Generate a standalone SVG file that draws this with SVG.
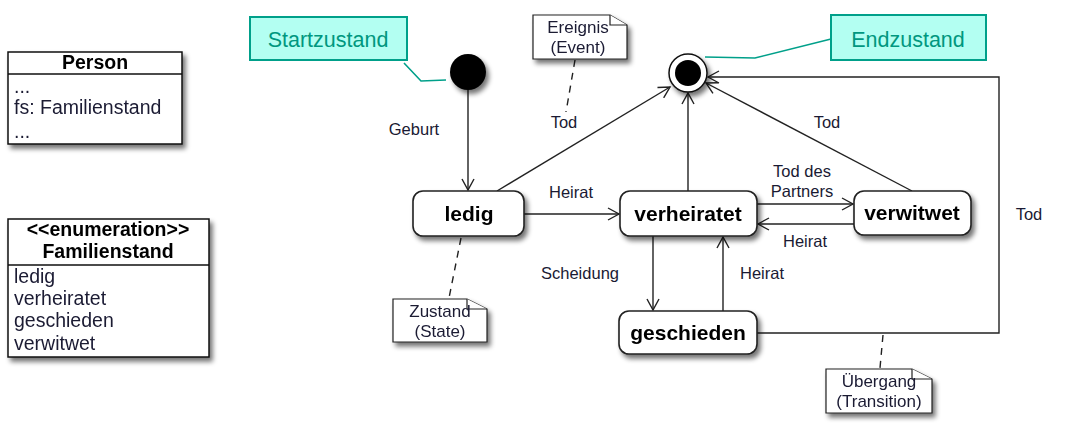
<svg xmlns="http://www.w3.org/2000/svg" width="1085" height="426" viewBox="0 0 1085 426">
<style>
text{font-family:"Liberation Sans",Arial,sans-serif;fill:#1a1a33}
.cls{fill:#fff;stroke:#111;stroke-width:1.5}
.st{fill:#fff;stroke:#222;stroke-width:1.6}
.sl{font-size:21px;font-weight:bold;text-anchor:middle;fill:#000}
.el{font-size:16.5px;text-anchor:middle}
.ct{font-size:19.5px}
.note{fill:#fff;stroke:#222;stroke-width:1.2}
.nt{font-size:17px;text-anchor:middle}
.tl{fill:#b3fff2;stroke:#00a08a;stroke-width:2}
.tt{font-size:21.5px;text-anchor:middle;fill:#00977f}
.e{fill:none;stroke:#222;stroke-width:1.4}
.d{fill:none;stroke:#222;stroke-width:1.4;stroke-dasharray:7,6}
.tc{fill:none;stroke:#00a08a;stroke-width:1.6}
</style>
<defs>
<filter id="sh" x="-20%" y="-20%" width="150%" height="160%">
<feGaussianBlur in="SourceAlpha" stdDeviation="2.5"/>
<feOffset dx="3" dy="4" result="b"/>
<feComponentTransfer><feFuncA type="linear" slope="0.55"/></feComponentTransfer>
<feMerge><feMergeNode/><feMergeNode in="SourceGraphic"/></feMerge>
</filter>
<marker id="a" markerWidth="14" markerHeight="14" refX="12" refY="7" orient="auto" markerUnits="userSpaceOnUse">
<path d="M1,1 L12,7 L1,13" fill="none" stroke="#222" stroke-width="1.4"/>
</marker>
</defs>
<rect width="1085" height="426" fill="#fff"/>

<g id="person" filter="url(#sh)">
<rect class="cls" x="8" y="52" width="174" height="92"/>
<line x1="8" y1="74" x2="182" y2="74" stroke="#111" stroke-width="1.5"/>
<text x="95" y="69" class="ct" font-weight="bold" text-anchor="middle" style="fill:#000">Person</text>
<text x="14" y="93" class="ct">...</text>
<text x="14" y="114" class="ct">fs: Familienstand</text>
<text x="14" y="138" class="ct">...</text>
</g>

<g id="familienstand" filter="url(#sh)">
<rect class="cls" x="8" y="219" width="201" height="138"/>
<line x1="8" y1="265" x2="209" y2="265" stroke="#111" stroke-width="1.5"/>
<text x="108" y="236" class="ct" font-weight="bold" text-anchor="middle" style="fill:#000">&lt;&lt;enumeration&gt;&gt;</text>
<text x="108" y="258" class="ct" font-weight="bold" text-anchor="middle" style="fill:#000">Familienstand</text>
<text x="14" y="283" class="ct">ledig</text>
<text x="14" y="305" class="ct">verheiratet</text>
<text x="14" y="327" class="ct">geschieden</text>
<text x="14" y="350" class="ct">verwitwet</text>
</g>

<g id="connectors">
<line class="e" x1="468" y1="90" x2="468" y2="190" marker-end="url(#a)"/>
<line class="e" x1="497" y1="191" x2="670" y2="87" marker-end="url(#a)"/>
<line class="e" x1="524" y1="214" x2="619" y2="214" marker-end="url(#a)"/>
<line class="e" x1="688" y1="191" x2="688" y2="93" marker-end="url(#a)"/>
<line class="e" x1="757" y1="204" x2="853" y2="204" marker-end="url(#a)"/>
<line class="e" x1="854" y1="224" x2="758" y2="224" marker-end="url(#a)"/>
<line class="e" x1="912" y1="191" x2="706" y2="83" marker-end="url(#a)"/>
<line class="e" x1="653" y1="236" x2="653" y2="310" marker-end="url(#a)"/>
<line class="e" x1="723" y1="311" x2="723" y2="237" marker-end="url(#a)"/>
<polyline class="e" points="757,333 999,333 999,77 708,77" marker-end="url(#a)"/>
<line class="d" x1="575" y1="60" x2="566" y2="112"/>
<line class="d" x1="461" y1="238" x2="449" y2="298"/>
<line class="d" x1="883" y1="335" x2="880" y2="368"/>
<polyline class="tc" points="404,63 421,81 446,80"/>
<polyline class="tc" points="705,57 755,58 831,39"/>
<text x="414" y="135" class="el">Geburt</text>
<text x="564" y="128" class="el">Tod</text>
<text x="571" y="198" class="el">Heirat</text>
<text x="802" y="177" class="el">Tod des</text>
<text x="802" y="197" class="el">Partners</text>
<text x="805" y="247" class="el">Heirat</text>
<text x="827" y="128" class="el">Tod</text>
<text x="580" y="279" class="el">Scheidung</text>
<text x="762" y="279" class="el">Heirat</text>
<text x="1029" y="220" class="el">Tod</text>
</g>

<g id="start" filter="url(#sh)">
<circle cx="468" cy="72" r="18" fill="#000"/>
</g>
<g id="end" filter="url(#sh)">
<circle cx="688" cy="73" r="19" fill="#fff" stroke="#111" stroke-width="1.5"/>
<circle cx="688" cy="73" r="13" fill="#000"/>
</g>

<g id="ledig" filter="url(#sh)">
<rect class="st" x="413" y="191" width="111" height="45" rx="10"/>
<text x="469" y="221" class="sl">ledig</text>
</g>
<g id="verheiratet" filter="url(#sh)">
<rect class="st" x="620" y="191" width="137" height="45" rx="10"/>
<text x="688" y="221" class="sl">verheiratet</text>
</g>
<g id="verwitwet" filter="url(#sh)">
<rect class="st" x="854" y="191" width="117" height="44" rx="10"/>
<text x="912" y="220" class="sl">verwitwet</text>
</g>
<g id="geschieden" filter="url(#sh)">
<rect class="st" x="619" y="311" width="138" height="43" rx="10"/>
<text x="688" y="340" class="sl">geschieden</text>
</g>

<g id="startzustand">
<rect class="tl" x="250" y="17" width="157" height="43"/>
<text x="328" y="47" class="tt">Startzustand</text>
</g>
<g id="endzustand">
<rect class="tl" x="831" y="15" width="155" height="45"/>
<text x="908" y="47" class="tt">Endzustand</text>
</g>

<g id="note-ereignis" filter="url(#sh)">
<path class="note" d="M533,15 H610 L627,25 V59 H533 Z"/>
<path class="note" d="M610,15 V25 H627"/>
<text x="578" y="33" class="nt">Ereignis</text>
<text x="578" y="53" class="nt">(Event)</text>
</g>
<g id="note-zustand" filter="url(#sh)">
<path class="note" d="M393,299 H467 L487,309 V342 H393 Z"/>
<path class="note" d="M467,299 V309 H487"/>
<text x="440" y="317" class="nt">Zustand</text>
<text x="440" y="337" class="nt">(State)</text>
</g>
<g id="note-uebergang" filter="url(#sh)">
<path class="note" d="M826,369 H912 L932,379 V413 H826 Z"/>
<path class="note" d="M912,369 V379 H932"/>
<text x="879" y="387" class="nt">Übergang</text>
<text x="879" y="407" class="nt">(Transition)</text>
</g>
</svg>
